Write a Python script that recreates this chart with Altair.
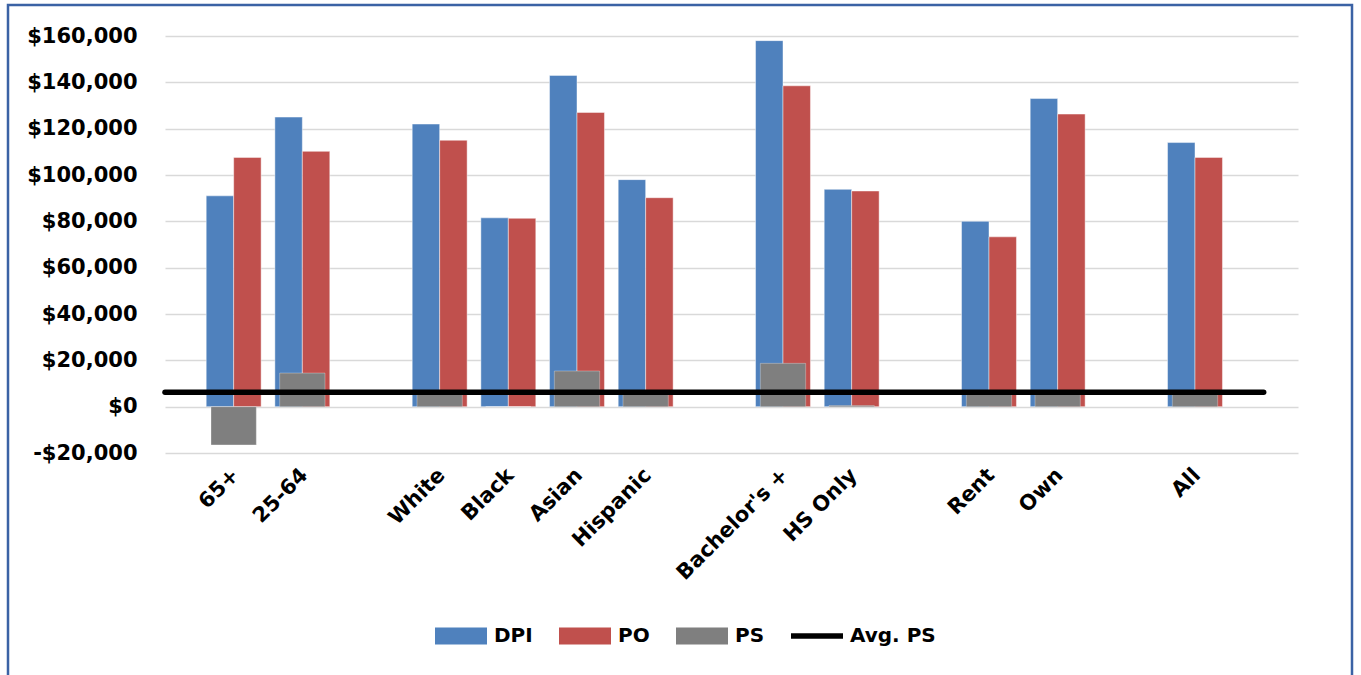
import altair as alt
import pandas as pd

# Household groups; an empty slot separates consecutive groups on the x axis
groups = [
    ["65+", "25-64"],
    ["White", "Black", "Asian", "Hispanic"],
    ["Bachelor's +", "HS Only"],
    ["Rent", "Own"],
    ["All"],
]
dpi = [91000, 125000, 122000, 81500, 143000, 98000, 158000, 93800, 80000, 133000, 114000]
po = [107600, 110200, 115000, 81300, 127000, 90200, 138500, 93100, 73300, 126300, 107600]
ps = [-16500, 14500, 7000, 0, 15400, 6500, 18700, 500, 5500, 6000, 6200]
avg_ps = 6200

series_names = ["DPI", "PO", "PS", "Avg. PS"]
series_colors = ["#4F81BD", "#C0504D", "#7F7F7F", "#000000"]
y_ticks = [-20000, 0, 20000, 40000, 60000, 80000, 100000, 120000, 140000, 160000]

FONT = "DejaVu Sans"

# slot index per category
categories, slots = [], []
pos = 0
for g in groups:
    for c in g:
        categories.append(c)
        slots.append(pos)
        pos += 1
    pos += 1
last_slot = slots[-1]
slot_labels = [""] * (last_slot + 1)
for c, s in zip(categories, slots):
    slot_labels[s] = c

rows = []
for c, s, a, b, p in zip(categories, slots, dpi, po, ps):
    rows.append({"category": c, "slot": s, "series": "DPI", "value": a})
    rows.append({"category": c, "slot": s, "series": "PO", "value": b})
    rows.append({"category": c, "slot": s, "series": "PS", "value": p})
bars = pd.DataFrame(rows)

avg_line = pd.DataFrame({
    "series": ["Avg. PS"],
    "value": [avg_ps],
    "x0": [slots[0] - 1],
    "x1": [last_slot + 1],
})

label_js = "[" + ",".join('"' + l + '"' for l in slot_labels) + "]"

x_scale = alt.Scale(domain=[slots[0] - 1, last_slot + 1.5], nice=False, zero=False)
y_scale = alt.Scale(domain=[-20000, 160000], nice=False)

x_axis = alt.Axis(
    values=slots, labelExpr=label_js + "[datum.value]", title=None,
    grid=False, domain=False, ticks=False, tickSize=0,
    labelAngle=-45, labelAlign="right", labelBaseline="top",
    labelPadding=11, labelOffset=-6, labelFont=FONT, labelFontSize=21,
    labelFontWeight="bold", labelColor="#000000", labelOverlap=False,
)
y_axis = alt.Axis(
    values=y_ticks, title=None, domain=False, ticks=False, tickSize=0,
    labelExpr="datum.value < 0 ? '-$' + format(-datum.value, ',') : '$' + format(datum.value, ',')",
    labelPadding=28, labelFont=FONT, labelFontSize=21, labelFontWeight="bold",
    labelColor="#000000", grid=True, gridColor="#D9D9D9", gridWidth=1.6,
)

# legend swatches: wide boxes for the bar series, a thick stroke for the average
RECT = "M-1,-0.33L1,-0.33L1,0.33L-1,0.33Z"
LINE = "M-1,-0.11L1,-0.11L1,0.11L-1,0.11Z"
legend = alt.Legend(
    title=None, orient="none", direction="horizontal",
    legendX=270, legendY=574, padding=0,
    symbolSize=2704, symbolStrokeWidth=0, symbolOpacity=1,
    labelFont=FONT, labelFontSize=20, labelFontWeight="bold", labelColor="#000000",
    labelOffset=7, columnPadding=26,
)
color = alt.Color("series:N", scale=alt.Scale(domain=series_names, range=series_colors), legend=legend)
shape = alt.Shape("series:N", scale=alt.Scale(domain=series_names, range=[RECT, RECT, RECT, LINE]), legend=legend)

x_enc = alt.X("x0:Q", scale=x_scale, axis=x_axis)
y_enc = alt.Y("value:Q", scale=y_scale, axis=y_axis)

offsets = "datum.series === 'DPI' ? [-0.4, 0] : datum.series === 'PO' ? [0, 0.4] : [-0.33, 0.33]"

dpi_po = alt.Chart(bars).transform_filter(
    "datum.series !== 'PS'"
).transform_calculate(
    off=offsets
).transform_calculate(
    x0="datum.slot + datum.off[0]", x1="datum.slot + datum.off[1]"
).mark_rect(stroke="#FFFFFF", strokeWidth=1, strokeOpacity=0.45).encode(
    x=x_enc, x2="x1:Q", y=y_enc, y2=alt.datum(0), color=color,
)

ps_bars = alt.Chart(bars).transform_filter(
    "datum.series === 'PS'"
).transform_calculate(
    off=offsets
).transform_calculate(
    x0="datum.slot + datum.off[0]", x1="datum.slot + datum.off[1]"
).mark_rect(stroke="#FFFFFF", strokeWidth=1, strokeOpacity=0.3).encode(
    x=x_enc, x2="x1:Q", y=y_enc, y2=alt.datum(0), color=color,
)

line = alt.Chart(avg_line).mark_rule(strokeWidth=5.5, strokeCap="round").encode(
    x=x_enc, x2="x1:Q", y=y_enc, color=color,
)

# carries the legend symbols only; it draws no marks
legend_keys = alt.Chart(bars).transform_filter("false").mark_point(filled=True, opacity=1).encode(
    x=x_enc, y=y_enc, color=color, shape=shape,
)

# outer frame of the figure
frame = alt.Chart(avg_line).mark_rect(
    fill=None, stroke="#3B62A5", strokeWidth=2.5
).encode(
    x=alt.value(-157), x2=alt.value(1187), y=alt.value(-31), y2=alt.value(700),
)

chart = alt.layer(dpi_po, ps_bars, line, legend_keys, frame).properties(
    width=1133, height=417,
    padding={"left": 165, "top": 36, "right": 63, "bottom": 222},
    autosize=alt.AutoSizeParams(type="none"),
    background="#FFFFFF",
).configure_view(stroke=None)

chart.save("out.html", embed_options={"renderer": "svg", "actions": False})
